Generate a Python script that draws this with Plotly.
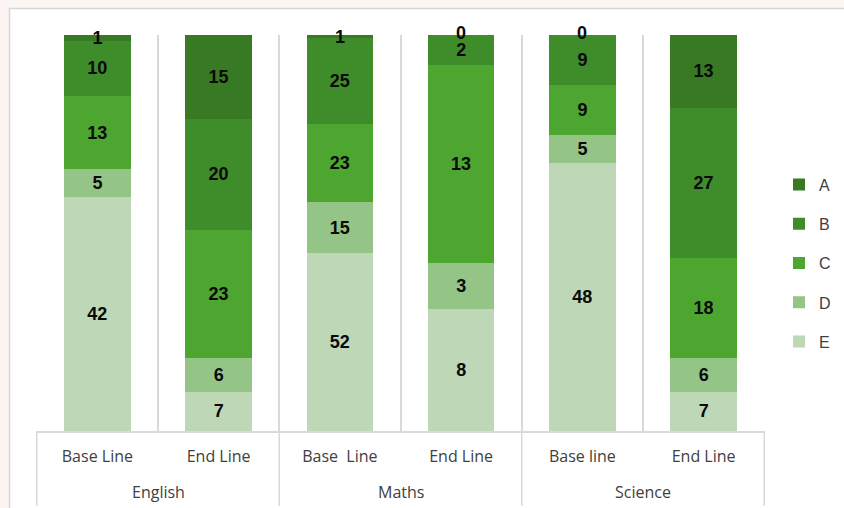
import plotly.graph_objects as go

# Grade counts per subject, baseline vs endline
subjects = ["English", "Maths", "Science"]
phases = ["Base Line", "End Line", "Base  Line", "End Line", "Base line", "End Line"]
bar_subject = ["English", "English", "Maths", "Maths", "Science", "Science"]
grade_a = [1, 15, 1, 0, 0, 13]
grade_b = [10, 20, 25, 2, 9, 27]
grade_c = [13, 23, 23, 13, 9, 18]
grade_d = [5, 6, 15, 3, 5, 6]
grade_e = [42, 7, 52, 8, 48, 7]

# unique category key per bar, shown with the phase name as tick text
keys = [f"{s}|{i}" for i, s in enumerate(bar_subject)]

series = [
    ("E", grade_e, "#bdd7b7", 5),
    ("D", grade_d, "#95c487", 4),
    ("C", grade_c, "#4ca62f", 3),
    ("B", grade_b, "#3f8c2a", 2),
    ("A", grade_a, "#387a23", 1),
]

label_font = dict(family="Liberation Sans, Arial", size=18, color="#0a0a0a", weight="bold")

fig = go.Figure()
for name, vals, color, rank in series:
    fig.add_trace(go.Bar(
        x=keys,
        y=vals,
        name=name,
        legendgroup=name,
        legendrank=rank,
        marker=dict(color=color, line=dict(width=0)),
        text=[v if v > 0 else "" for v in vals],
        texttemplate="%{text}",
        textposition="inside",
        insidetextanchor="middle",
        constraintext="none",
        textangle=0,
        cliponaxis=False,
        textfont=label_font,
    ))

# zero-size segments still get their value written at the top of the stack
stack = [grade_e, grade_d, grade_c, grade_b, grade_a]
totals = [sum(col) for col in zip(*stack)]
for i, key in enumerate(keys):
    below = 0
    for vals in stack:
        if vals[i] == 0:
            fig.add_annotation(x=key, y=100 * below / totals[i], text=str(vals[i]),
                               showarrow=False, font=label_font, yanchor="middle", yshift=2)
        below += vals[i]

# Card behind the chart
L, R, T, B = 36, 0, 35, 77
paper_w = 844 - L - R
paper_h = 508 - T - B
fig.add_shape(type="rect", xref="paper", yref="paper",
              x0=(9.5 - L) / paper_w, x1=(860 - L) / paper_w,
              y0=(T + paper_h - 520) / paper_h, y1=(T + paper_h - 8.5) / paper_h,
              fillcolor="white", line=dict(color="#d6d6d6", width=1.5), layer="below")

# group dividers running down through the label area, and group names
grid_col = "#d9d9d9"
for xb in [-0.5, 1.5, 3.5, 5.5]:
    fig.add_shape(type="line", xref="x", yref="paper", x0=xb, x1=xb,
                  y0=0, y1=(T + paper_h - 506) / paper_h,
                  line=dict(color=grid_col, width=1.5))
for gi, subj in enumerate(subjects):
    fig.add_annotation(x=2 * gi + 0.5, xref="x", yref="paper",
                       y=(T + paper_h - 492) / paper_h, text=subj, showarrow=False,
                       yanchor="middle", font=dict(size=16, color="#404040"))

fig.update_layout(
    width=844, height=508,
    barmode="stack", barnorm="percent", bargap=0.45,
    paper_bgcolor="#fdf4f4", plot_bgcolor="white",
    margin=dict(l=L, r=R, t=T, b=B),
    font=dict(family="Open Sans, Noto Sans, sans-serif", color="#404040"),
    xaxis=dict(
        type="category",
        domain=[0, 729 / paper_w],
        tickvals=keys, ticktext=phases,
        tickson="boundaries",
        showgrid=True, gridcolor=grid_col, gridwidth=1.5,
        showline=True, linecolor=grid_col, linewidth=1.5,
        ticks="", ticklabelstandoff=10,
        tickfont=dict(size=16, color="#404040"),
    ),
    yaxis=dict(range=[0, 100], visible=False, showgrid=False),
    legend=dict(
        x=(779 - L) / paper_w, xanchor="left", y=(T + paper_h - 263) / paper_h, yanchor="middle",
        traceorder="grouped", tracegroupgap=15.5,
        font=dict(family="Liberation Sans, Arial", size=16, color="#404040"),
        bgcolor="rgba(0,0,0,0)",
    ),
    showlegend=True,
)

fig.write_html("out.html")
